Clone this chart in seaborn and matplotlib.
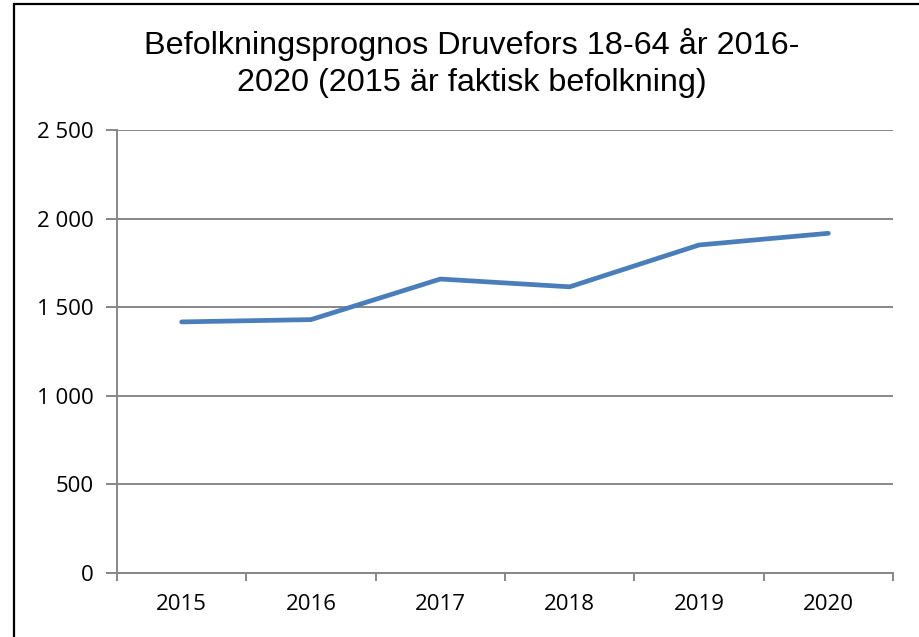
import numpy as np
import pandas as pd
import seaborn as sns
import matplotlib.pyplot as plt
from matplotlib.ticker import FixedLocator, FuncFormatter
from matplotlib.patches import Rectangle

years = ["2015", "2016", "2017", "2018", "2019", "2020"]
population = [1417, 1430, 1659, 1615, 1851, 1917]
title = "Befolkningsprognos Druvefors 18-64 år 2016-\n2020 (2015 är faktisk befolkning)"

LINE = "#4A7EBB"
GREY = "#878787"

sns.set_theme(style="white")
plt.rcParams['font.family'] = ['Open Sans', 'DejaVu Sans']

df = pd.DataFrame({"year": years, "population": population})

fig = plt.figure(figsize=(9.2, 6.37), dpi=100)
ax = fig.add_axes([117 / 920, 1 - 573 / 637, (893 - 117) / 920, (573 - 130) / 637])

sns.lineplot(data=df, x="year", y="population", ax=ax, color=LINE,
             linewidth=3.4, solid_capstyle="round", solid_joinstyle="miter", zorder=3)

ax.set_ylim(0, 2500)
ax.set_yticks(np.arange(0, 2501, 500))
ax.yaxis.set_major_formatter(FuncFormatter(lambda v, _: f"{int(v):,}".replace(",", " ")))
ax.yaxis.grid(True, color=GREY, linewidth=1.4)
ax.set_axisbelow(True)

n = len(years)
ax.set_xlim(-0.5, n - 0.5)
ax.xaxis.set_major_locator(FixedLocator(np.arange(-0.5, n, 1.0)))
ax.xaxis.set_major_formatter(FuncFormatter(lambda v, _: ""))
ax.xaxis.set_minor_locator(FixedLocator(np.arange(n)))
ax.set_xticks(np.arange(n), years, minor=True)

ax.tick_params(axis="x", which="major", direction="out", length=6, width=1.4,
               color=GREY, bottom=True)
ax.tick_params(axis="x", which="minor", length=0, pad=15, labelsize=16, labelcolor="black")
ax.tick_params(axis="y", direction="out", length=8, width=1.4, color=GREY, left=True,
               pad=9, labelsize=16, labelcolor="black")

ax.set_xlabel("")
ax.set_ylabel("")
for side in ["top", "right"]:
    ax.spines[side].set_visible(False)
for side in ["left", "bottom"]:
    ax.spines[side].set_color(GREY)
    ax.spines[side].set_linewidth(1.4)

fig.text(472 / 920, 1 - 63 / 637, title, ha="center", va="center", fontsize=23.3,
         color="black", family=["Liberation Sans", "DejaVu Sans"], linespacing=1.28)

fig.add_artist(Rectangle((14.5 / 920, -0.1), 1.2, 1 - 3.5 / 637 + 0.1,
                         transform=fig.transFigure, fill=False,
                         edgecolor="black", linewidth=1.6))

fig.savefig("out.png", dpi=100)
